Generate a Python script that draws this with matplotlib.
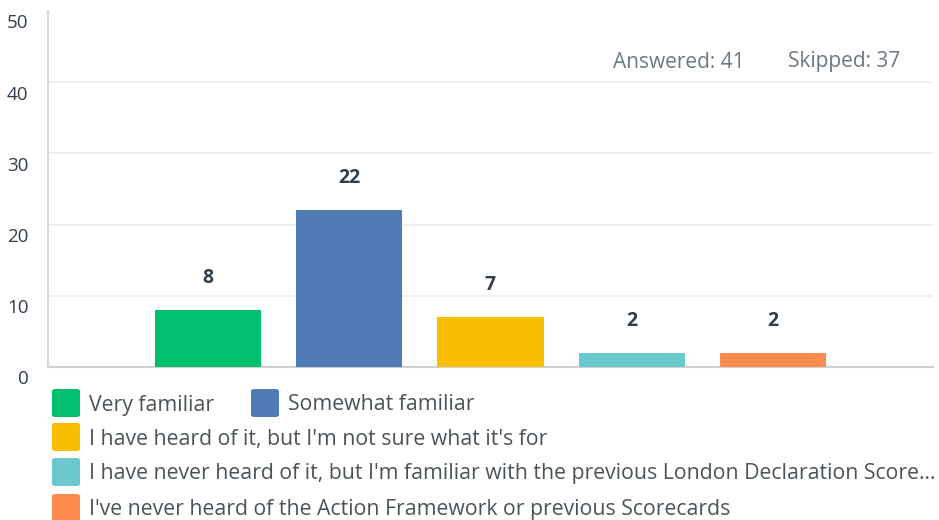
import matplotlib
matplotlib.use("Agg")
import matplotlib.pyplot as plt
from matplotlib.patches import FancyBboxPatch
from matplotlib.transforms import ScaledTranslation

categories = [
    "Very familiar",
    "Somewhat familiar",
    "I have heard of it, but I'm not sure what it's for",
    "I have never heard of it, but I'm familiar with the previous London Declaration Score...",
    "I've never heard of the Action Framework or previous Scorecards",
]
values = [8, 22, 7, 2, 2]
colors = ["#00BF6F", "#507CB6", "#F9BE00", "#6BC8CD", "#FF8B4F"]
yticks = [0, 10, 20, 30, 40, 50]
answered = 41
skipped = 37

plt.rcParams['font.family'] = ['Open Sans', 'DejaVu Sans']

W, H = 939, 520
fig = plt.figure(figsize=(W / 100, H / 100), dpi=100)
ax_left, ax_right = 48, 933
ax_top, ax_bot = 11, 367
ax = fig.add_axes([ax_left / W, 1 - ax_bot / H, (ax_right - ax_left) / W, (ax_bot - ax_top) / H])

x = list(range(len(values)))
ax.bar(x, values, width=0.75, color=colors, zorder=3)
ax.set_xlim(-1.13, len(values) - 1 + 1.13)
ax.set_ylim(0, 50)

for xi, v in zip(x, values):
    ax.annotate(str(v), (xi, v), xytext=(0, 32 * 0.72), textcoords='offset points',
                ha='center', va='center', fontsize=14, fontweight='bold', color='#333e48')

ax.set_yticks(yticks)
ax.set_yticklabels([str(t) for t in yticks])
ax.tick_params(axis='y', length=0, pad=14, labelsize=13.5, labelcolor='#333e48')
ax.tick_params(axis='x', length=0, labelbottom=False)
offset = ScaledTranslation(0, -10.5 / 100, fig.dpi_scale_trans)
for lbl in ax.get_yticklabels():
    lbl.set_transform(lbl.get_transform() + offset)

for t in yticks[1:-1]:
    ax.axhline(t, color='#ececec', lw=1.2, zorder=1)
for s in ['top', 'right']:
    ax.spines[s].set_visible(False)
ax.spines['left'].set_color('#d9d9d9')
ax.spines['left'].set_linewidth(1.5)
ax.spines['bottom'].set_color('#d0d0d0')
ax.spines['bottom'].set_linewidth(1.5)

fig.text(745 / W, 1 - 62 / H, f"Answered: {answered}",
         ha='right', va='center', fontsize=15, color='#6b787f')
fig.text(900 / W, 1 - 62 / H, f"Skipped: {skipped}",
         ha='right', va='center', fontsize=15, color='#6b787f')

# legend
positions = [(52, 403), (251, 403), (52, 437), (52, 472), (52, 508)]
sq = 28
for (px, py), lab, col in zip(positions, categories, colors):
    p = FancyBboxPatch(((px) / W, 1 - (py + sq / 2) / H), sq / W, sq / H,
                       boxstyle="round,pad=0,rounding_size=0.004",
                       transform=fig.transFigure, facecolor=col, edgecolor='none')
    fig.patches.append(p)
    fig.text((px + sq + 9) / W, 1 - (py + 2) / H, lab, ha='left', va='center',
             fontsize=15.3, color='#4a5358')

fig.savefig("out.png", dpi=100)
